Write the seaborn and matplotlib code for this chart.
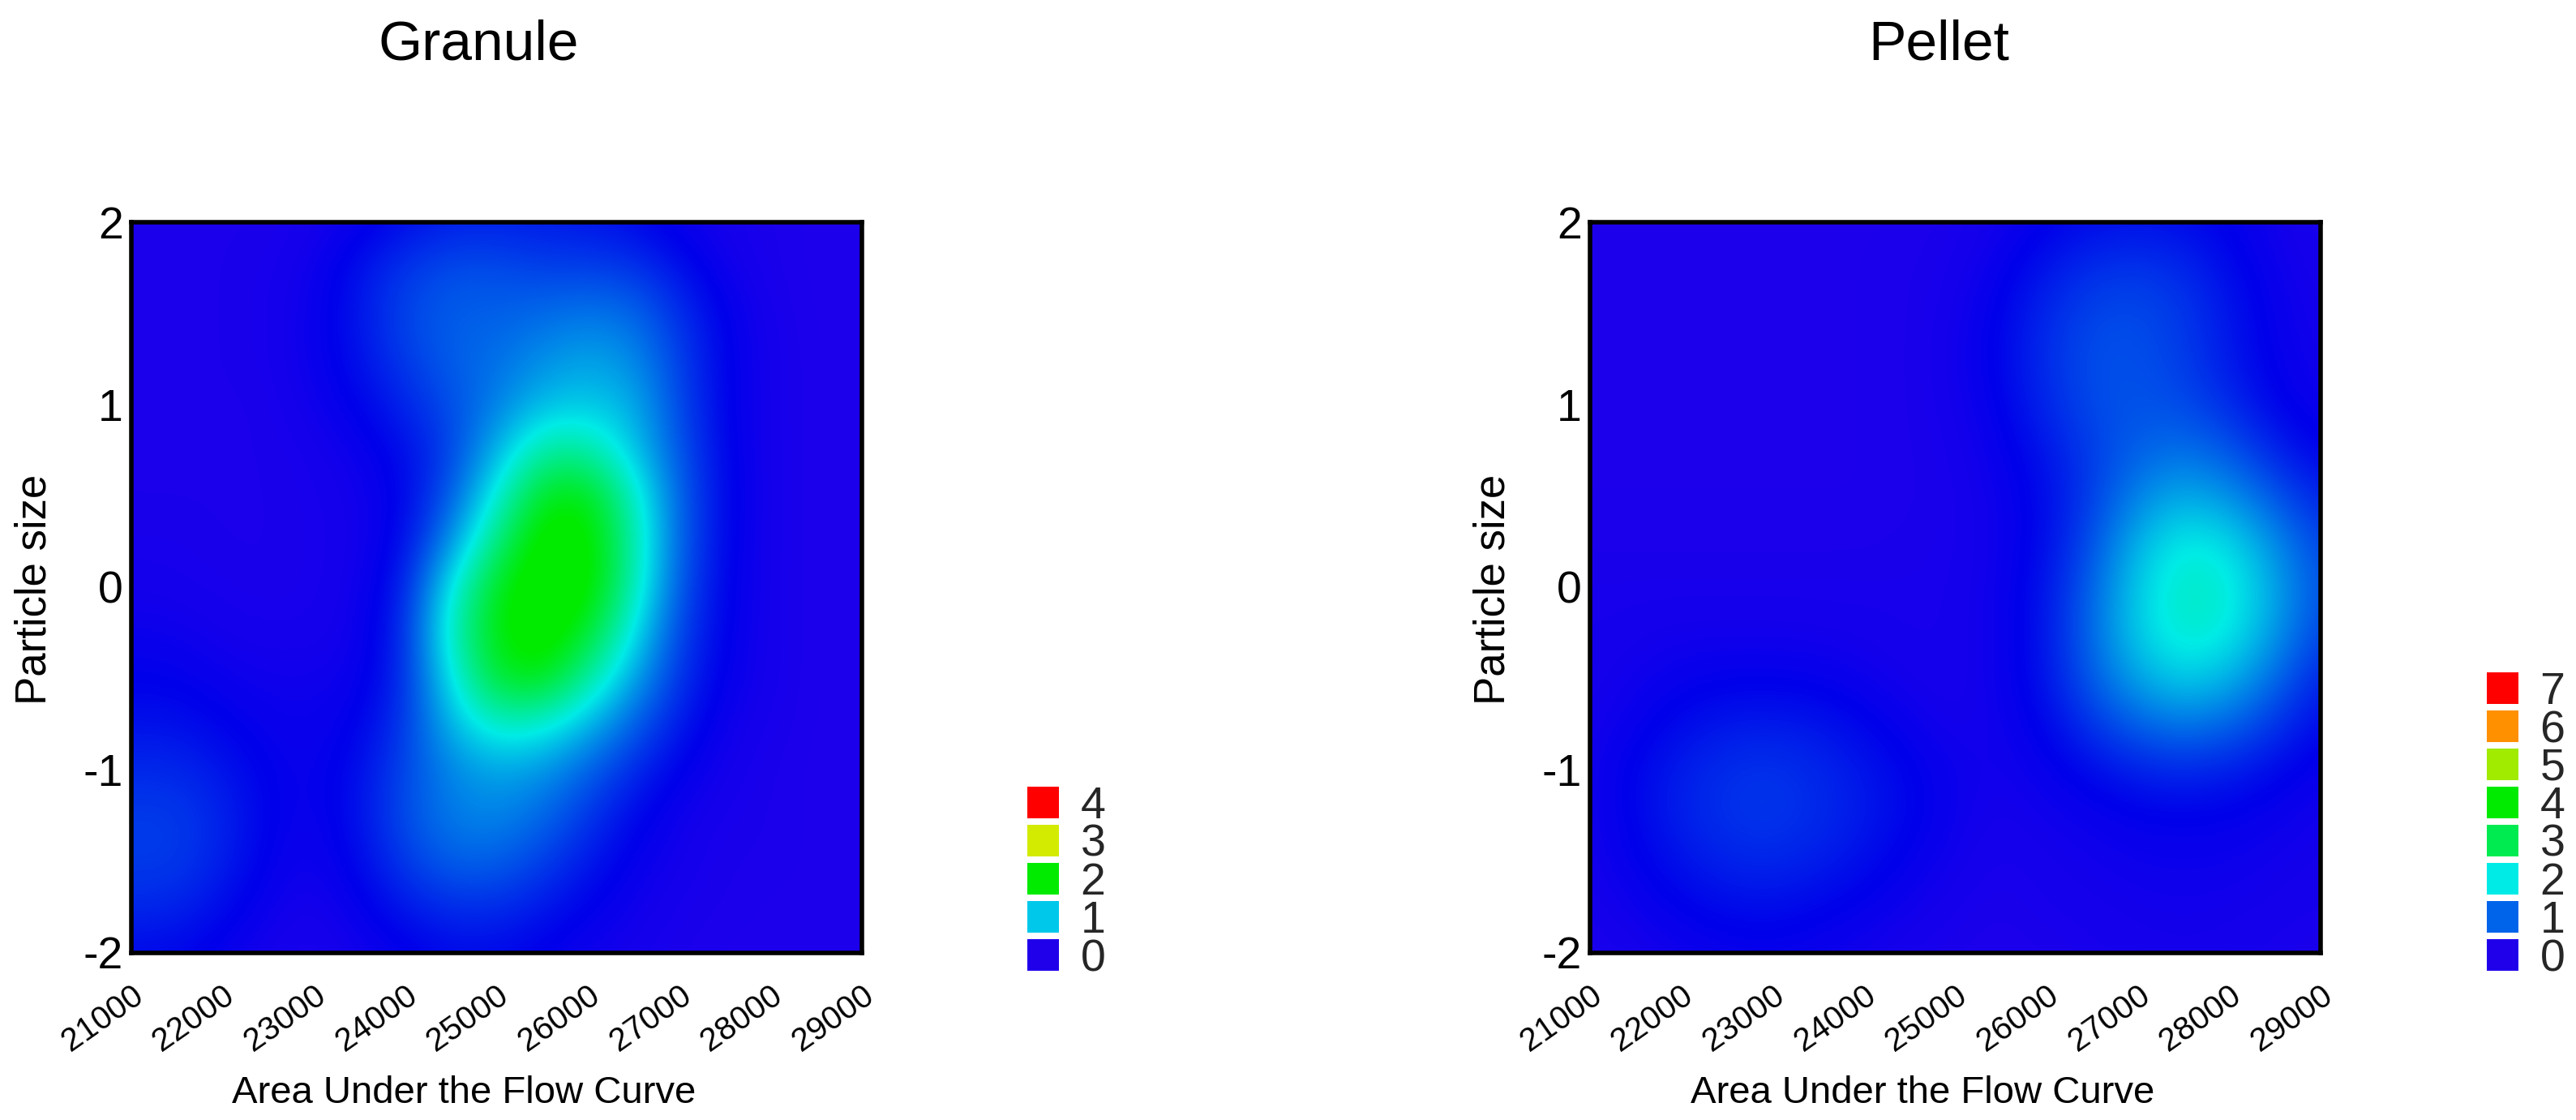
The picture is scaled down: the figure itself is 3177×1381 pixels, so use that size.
import matplotlib.pyplot as plt
import pandas as pd
import seaborn as sns
from matplotlib.colors import LinearSegmentedColormap
from matplotlib.patches import Patch

x_ticks = [21000, 22000, 23000, 24000, 25000, 26000, 27000, 28000, 29000]
y_ticks = [2, 1, 0, -1, -2]
x_nodes = [21000 + 500 * i for i in range(17)]
y_nodes = [2 - 0.25 * i for i in range(17)]

# density, rows from y=2 down to y=-2
granule = [
    [.03, .03, .03, .03, .05, .1, .2, .27, .28, .26, .24, .18, .1, .05, .03, .02, .02],
    [.03, .03, .03, .04, .08, .22, .38, .48, .48, .42, .42, .38, .22, .08, .03, .02, .02],
    [.03, .03, .03, .04, .1, .24, .45, .55, .55, .6, .65, .6, .35, .14, .04, .02, .02],
    [.03, .03, .03, .04, .1, .22, .4, .55, .62, .75, .85, .75, .42, .15, .05, .02, .02],
    [.03, .03, .03, .03, .08, .16, .3, .48, .68, .95, 1.0, .9, .45, .15, .05, .02, .02],
    [.03, .03, .03, .03, .05, .1, .2, .42, .9, 1.42, 1.42, 1.0, .5, .16, .05, .02, .02],
    [.03, .03, .03, .03, .04, .07, .16, .52, 1.2, 1.92, 1.98, 1.3, .55, .17, .05, .02, .02],
    [.04, .04, .03, .03, .04, .06, .18, .75, 1.55, 2.15, 2.12, 1.4, .55, .16, .05, .02, .02],
    [.06, .05, .04, .03, .04, .07, .26, 1.15, 1.92, 2.2, 2.12, 1.35, .5, .15, .05, .02, .02],
    [.1, .09, .06, .05, .05, .08, .3, 1.3, 1.98, 2.2, 1.85, 1.12, .42, .14, .05, .02, .02],
    [.15, .14, .1, .08, .08, .1, .32, 1.12, 1.85, 1.95, 1.42, .85, .35, .12, .05, .02, .02],
    [.22, .22, .16, .11, .1, .15, .38, .92, 1.28, 1.22, .92, .55, .25, .08, .04, .02, .02],
    [.32, .32, .24, .14, .11, .2, .45, .72, .85, .78, .56, .32, .14, .06, .03, .02, .02],
    [.4, .4, .3, .15, .1, .22, .48, .68, .72, .6, .38, .18, .08, .04, .03, .02, .02],
    [.4, .4, .28, .13, .08, .18, .4, .56, .56, .42, .25, .12, .06, .03, .03, .02, .02],
    [.32, .3, .2, .09, .05, .12, .25, .34, .34, .25, .15, .08, .04, .03, .02, .02, .02],
    [.18, .17, .11, .05, .03, .07, .12, .18, .18, .13, .08, .05, .03, .02, .02, .02, .02],
]
pellet = [
    [.04, .04, .04, .04, .04, .04, .04, .04, .06, .12, .24, .34, .38, .34, .24, .12, .06],
    [.04, .04, .04, .04, .04, .04, .04, .05, .08, .2, .42, .6, .66, .56, .34, .16, .08],
    [.04, .04, .04, .04, .04, .04, .04, .05, .1, .28, .56, .78, .82, .68, .42, .2, .1],
    [.04, .04, .04, .04, .04, .04, .04, .05, .12, .3, .6, .85, .85, .72, .44, .22, .12],
    [.04, .04, .04, .04, .04, .04, .04, .05, .1, .26, .55, .82, .88, .82, .58, .28, .16],
    [.04, .04, .04, .04, .04, .04, .04, .05, .08, .2, .42, .72, .98, 1.1, .9, .52, .26],
    [.04, .04, .04, .04, .04, .04, .04, .05, .07, .16, .34, .72, 1.25, 1.55, 1.35, .9, .5],
    [.05, .05, .05, .05, .05, .05, .05, .06, .07, .15, .34, .85, 1.6, 2.05, 1.9, 1.3, .75],
    [.07, .07, .07, .07, .07, .07, .07, .07, .08, .16, .4, 1.0, 1.8, 2.25, 2.15, 1.5, .85],
    [.08, .1, .12, .12, .12, .11, .1, .08, .08, .16, .42, 1.05, 1.8, 2.2, 2.05, 1.4, .75],
    [.09, .14, .2, .24, .24, .22, .16, .1, .08, .16, .4, .95, 1.5, 1.8, 1.6, 1.05, .5],
    [.1, .2, .34, .44, .46, .42, .3, .18, .1, .14, .3, .65, .98, 1.15, 1.0, .65, .32],
    [.12, .3, .48, .6, .64, .55, .42, .28, .16, .12, .2, .34, .5, .55, .48, .32, .18],
    [.12, .3, .5, .63, .66, .58, .45, .3, .16, .09, .14, .18, .24, .26, .24, .18, .12],
    [.1, .24, .4, .52, .55, .48, .36, .22, .12, .07, .1, .13, .16, .17, .16, .13, .1],
    [.08, .16, .26, .34, .36, .3, .22, .14, .08, .05, .08, .1, .12, .13, .12, .1, .08],
    [.05, .08, .14, .18, .2, .16, .12, .07, .05, .04, .05, .07, .09, .1, .09, .07, .05],
]
granule_levels = [0, 1, 2, 3, 4]
granule_colors = ["#2000EB", "#00C8EB", "#00EB00", "#D2EB00", "#FF0000"]
pellet_levels = [0, 1, 2, 3, 4, 5, 6, 7]
pellet_colors = ["#2000EB", "#0064EB", "#00EBE6", "#00EB50", "#00EB00", "#A0EB00", "#FF9000", "#FF0000"]

ramp = LinearSegmentedColormap.from_list("ramp", [
    (0, "#2000EB"), (.037, "#0000EB"), (.286, "#00EBE6"), (.5, "#00EB00"),
    (.6, "#00EB00"), (.78, "#EBEB00"), (1, "#FF0000")], N=512)

sns.set_theme(style="white")
plt.rcParams["font.family"] = "Liberation Sans"

W, H = 3177, 1381
fig = plt.figure(figsize=(W / 100, H / 100), dpi=100)

panels = [
    ("Granule", granule, 4, granule_levels, granule_colors, 161.5, 590, 1267, 1209),
    ("Pellet", pellet, 7, pellet_levels, pellet_colors, 1960.5, 2391, 3067, 1209),
]

for title, grid, vmax, levels, colors, left, title_x, leg_x, leg_y in panels:
    ax = fig.add_axes([left / W, 1 - 1174.5 / H, 901 / W, 901 / H])
    df = pd.DataFrame(grid, index=y_nodes, columns=x_nodes)
    sns.heatmap(df, cmap=ramp, vmin=0, vmax=vmax, cbar=False, ax=ax)
    # heatmap cells are flat, so paint the same cells smooth on top
    ax.imshow(df.values, cmap=ramp, vmin=0, vmax=vmax, interpolation="bicubic",
              extent=(0, 17, 17, 0), aspect="auto", zorder=2)
    ax.set_xlim(0.5, 16.5)
    ax.set_ylim(16.5, 0.5)

    ax.set_xticks([x_nodes.index(v) + 0.5 for v in x_ticks])
    ax.set_xticklabels(x_ticks, rotation=35, ha="right", rotation_mode="anchor", fontsize=29, color="black")
    ax.set_yticks([y_nodes.index(v) + 0.5 for v in y_ticks])
    ax.set_yticklabels(y_ticks, rotation=0, fontsize=40, color="black", va="center_baseline")
    ax.tick_params(axis="x", pad=24, length=0)
    ax.tick_params(axis="y", pad=7, length=0)
    for spine in ax.spines.values():
        spine.set_visible(True)
        spine.set_linewidth(4)
        spine.set_color("black")
        spine.set_zorder(5)

    ax.set_xlabel("Area Under the Flow Curve", fontsize=34, color="black")
    ax.xaxis.set_label_coords(0.456, -0.168, transform=ax.transAxes)
    ax.set_ylabel("Particle size", fontsize=38, color="black")
    ax.yaxis.set_label_coords(-0.104, 0.497, transform=ax.transAxes)

    fig.text(title_x / W, 1 - 56 / H, title, fontsize=50, ha="center", va="center", color="black")

    handles = [Patch(facecolor=c, edgecolor="none") for c in colors[::-1]]
    labels = [str(v) for v in levels[::-1]]
    fig.legend(handles, labels, loc="lower left", bbox_to_anchor=(leg_x / W, 1 - leg_y / H),
               frameon=False, fontsize=40, handlelength=0.7, handleheight=0.7,
               handletextpad=0.48, labelspacing=-0.09, borderpad=0, borderaxespad=0)

fig.savefig("out.png", dpi=100)
